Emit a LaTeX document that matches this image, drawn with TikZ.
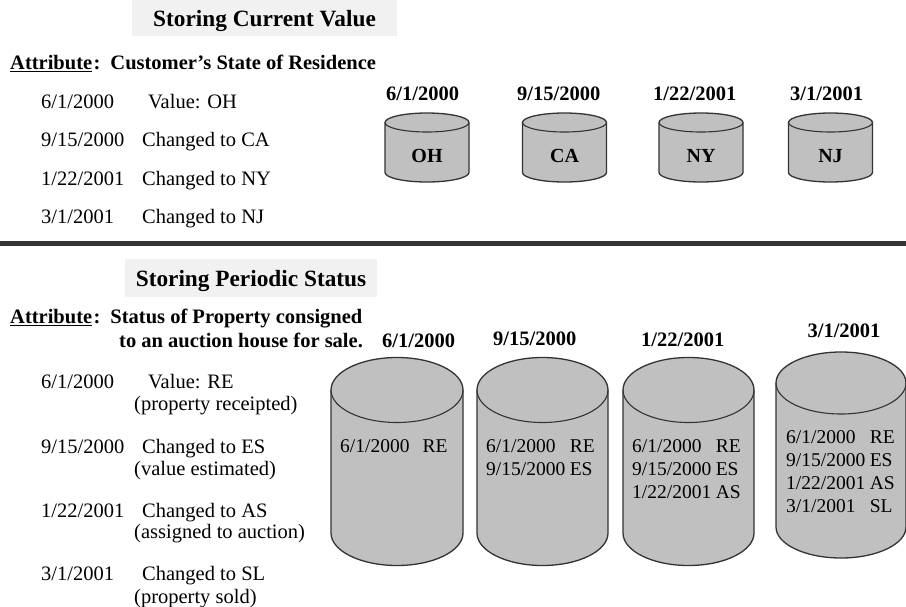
\documentclass[tikz,border=0pt]{standalone}
\usepackage{fontspec}
\setmainfont{Liberation Serif}
\definecolor{drumgray}{HTML}{C0C0C0}
\definecolor{drumedge}{HTML}{333333}
\definecolor{boxgray}{HTML}{F1F1F1}
\definecolor{rulegray}{HTML}{333333}
\newcommand\fbody{\fontsize{20.5}{24}\selectfont}
\newcommand\fin{\fontsize{19.5}{23}\selectfont}
\newcommand\ftitle{\fontsize{23.3}{27}\selectfont\bfseries}
\newcommand\myul[1]{\leavevmode\vtop{\hbox{#1}\kern1.6pt\hrule height1.6pt}}
\newcommand\drum[6]{%
  \path[drumbody] (#2-#4,#3) -- ++(0,#6)
     arc[start angle=180,end angle=360,x radius=#4pt,y radius=#5pt] -- ++(0,-#6)
     arc[start angle=0,end angle=180,x radius=#4pt,y radius=#5pt] -- cycle;
  \draw[drumline] (#2-#4,#3) arc[start angle=180,end angle=360,x radius=#4pt,y radius=#5pt];
  \coordinate (#1) at (#2,#3+#6/2);
}
\begin{document}
\begin{tikzpicture}[x=1pt,y=-1pt,
  txt/.style={anchor=base west,inner sep=0pt,font=\fbody},
  btxt/.style={anchor=base west,inner sep=0pt,font=\fbody\bfseries},
  datelbl/.style={anchor=base west,inner sep=0pt,font=\fbody\bfseries},
  drumlbl/.style={anchor=base,inner sep=0pt,font=\fontsize{20}{24}\selectfont\bfseries},
  intxt/.style={anchor=base west,inner sep=0pt,font=\fin},
  titlebox/.style={fill=boxgray,inner sep=0pt,text height=18pt,text depth=2pt,font=\ftitle},
  drumbody/.style={fill=drumgray,draw=drumedge,line width=1.3pt,line join=round},
  drumline/.style={draw=drumedge,line width=1.1pt},
  sep/.style={draw=rulegray,line width=5pt}]
\useasboundingbox (0,0) rectangle (906,606);
\fill[white] (0,0) rectangle (906,606);

% ---------- top section ----------
\node[titlebox,minimum width=265pt,minimum height=36pt] (t1) at (264.5,18) {Storing Current Value};
\node[btxt] (a1) at (10,69) {\myul{Attribute}\hspace{1.5pt}:\hspace{10pt}Customer’s State of Residence};

\node[txt] (d11) at (41,108) {6/1/2000};   \node[txt] (v11) at (148,108) {Value: OH};
\node[txt] (d12) at (41,146) {9/15/2000};  \node[txt] (v12) at (142,146) {Changed to CA};
\node[txt] (d13) at (41,185) {1/22/2001};  \node[txt] (v13) at (142,185) {Changed to NY};
\node[txt] (d14) at (41,223) {3/1/2001};   \node[txt] (v14) at (142,223) {Changed to NJ};

\node[datelbl] (h11) at (386,100) {6/1/2000};
\node[datelbl] (h12) at (517,100) {9/15/2000};
\node[datelbl] (h13) at (653,100) {1/22/2001};
\node[datelbl] (h14) at (790,100) {3/1/2001};

\drum{c11}{427}{122.5}{42}{9.5}{50}
\drum{c12}{564.5}{122.5}{42}{9.5}{50}
\drum{c13}{701}{122.5}{42}{9.5}{50}
\drum{c14}{830.5}{122.5}{42}{9.5}{50}
\node[drumlbl] (s11) at (427,162) {OH};
\node[drumlbl] (s12) at (564.5,162) {CA};
\node[drumlbl] (s13) at (701,162) {NY};
\node[drumlbl] (s14) at (830.5,162) {NJ};

% ---------- separator ----------
\coordinate (sepL) at (0,243.5);
\coordinate (sepR) at (906,243.5);
\draw[sep] (sepL) -- (sepR);

% ---------- bottom section ----------
\node[titlebox,minimum width=252pt,minimum height=38pt] (t2) at (251,278) {Storing Periodic Status};
\node[btxt] (a2) at (10,323) {\myul{Attribute}\hspace{1.5pt}:\hspace{10pt}Status of Property consigned};
\node[btxt] (a2b) at (119,347) {to an auction house for sale.};

\node[txt] (d21) at (41,388) {6/1/2000};   \node[txt] (v21) at (148,388) {Value: RE};
\node[txt] (n21) at (134,410) {(property receipted)};
\node[txt] (d22) at (41,453) {9/15/2000};  \node[txt] (v22) at (142,453) {Changed to ES};
\node[txt] (n22) at (134,475) {(value estimated)};
\node[txt] (d23) at (41,517) {1/22/2001};  \node[txt] (v23) at (142,517) {Changed to AS};
\node[txt] (n23) at (134,538) {(assigned to auction)};
\node[txt] (d24) at (41,580) {3/1/2001};   \node[txt] (v24) at (142,580) {Changed to SL};
\node[txt] (n24) at (134,603) {(property sold)};

\node[datelbl] (h21) at (382,347) {6/1/2000};
\node[datelbl] (h22) at (493,345) {9/15/2000};
\node[datelbl] (h23) at (641,346) {1/22/2001};
\node[datelbl,anchor=base] (h24) at (844,337) {3/1/2001};

\drum{c21}{397}{390}{66}{32.5}{143}
\drum{c22}{542.5}{390}{65.5}{32.5}{143}
\drum{c23}{688.5}{390}{65.5}{32.5}{143}
\drum{c24}{841}{383}{65}{31}{144}

\node[intxt] (r21) at (340,452) {6/1/2000\hspace{13pt}RE};
\node[intxt] (r22) at (486,452) {\begin{tabular}[t]{@{}l@{\hspace{4.5pt}}l@{}}6/1/2000 & RE\\9/15/2000 & ES\end{tabular}};
\node[intxt] (r23) at (632,452) {\begin{tabular}[t]{@{}l@{\hspace{4.5pt}}l@{}}6/1/2000 & RE\\9/15/2000 & ES\\1/22/2001 & AS\end{tabular}};
\node[intxt] (r24) at (786,443) {\begin{tabular}[t]{@{}l@{\hspace{4.5pt}}l@{}}6/1/2000 & RE\\9/15/2000 & ES\\1/22/2001 & AS\\3/1/2001 & SL\end{tabular}};
\end{tikzpicture}
\end{document}
